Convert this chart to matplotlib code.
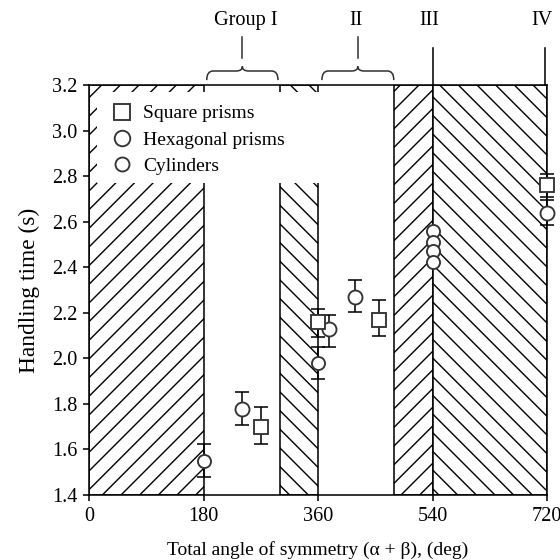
import numpy as np
import matplotlib
matplotlib.use("Agg")
import matplotlib.pyplot as plt
from matplotlib.lines import Line2D
from matplotlib.patches import Rectangle, PathPatch
from matplotlib.path import Path

plt.rcParams['font.family'] = ['Liberation Serif', 'DejaVu Serif']
plt.rcParams['hatch.linewidth'] = 0.9

# data
sq_x = [270, 360, 455, 720]
sq_y = [1.70, 2.16, 2.17, 2.76]
sq_lo = [1.625, 2.095, 2.10, 2.707]
sq_hi = [1.785, 2.217, 2.256, 2.81]

hex_x = [240, 377, 418, 720]
hex_y = [1.78, 2.13, 2.27, 2.64]
hex_lo = [1.707, 2.052, 2.202, 2.585]
hex_hi = [1.851, 2.19, 2.345, 2.695]

cyl_x = [180, 360]
cyl_y = [1.55, 1.98]
cyl_lo = [1.48, 1.908]
cyl_hi = [1.625, 2.052]

# group III, no error bars drawn
g3_x = [540, 540, 540, 540]
g3_y = [2.558, 2.512, 2.473, 2.423]

# shaded (hatched) bands: start, end, hatch
bands = [(0, 180, '//'), (300, 360, '\\\\'), (480, 540, '//'), (540, 720, '\\\\')]

fig = plt.figure(figsize=(5, 5), dpi=112)
ax = fig.add_axes([0.159, 0.116, 0.818, 0.732])

for a, b, h in bands:
    ax.axvspan(a, b, facecolor='white', edgecolor='black', hatch=h, linewidth=1.0, zorder=0.5)

# white box behind legend
ax.add_patch(Rectangle((12, 2.77), 353, 0.40, facecolor='white', edgecolor='none', zorder=2))

ekw = dict(fmt='none', ecolor='black', elinewidth=1.0, capsize=4.2, capthick=1.0, zorder=4, clip_on=False)
ax.errorbar(sq_x, sq_y, yerr=[np.subtract(sq_y, sq_lo), np.subtract(sq_hi, sq_y)], **ekw)
ax.errorbar(hex_x, hex_y, yerr=[np.subtract(hex_y, hex_lo), np.subtract(hex_hi, hex_y)], **ekw)
ax.errorbar(cyl_x, cyl_y, yerr=[np.subtract(cyl_y, cyl_lo), np.subtract(cyl_hi, cyl_y)], **ekw)

mkw = dict(linestyle='none', markerfacecolor='white', markeredgecolor='#333333', markeredgewidth=1.2)
ax.plot(hex_x, hex_y, marker='o', markersize=9, zorder=5, clip_on=False, **mkw)
ax.plot(cyl_x, cyl_y, marker='o', markersize=8.4, zorder=5, clip_on=False, **mkw)
ax.plot(g3_x, g3_y, marker='o', markersize=8.4, zorder=5, clip_on=False, **mkw)
ax.plot(sq_x, sq_y, marker='s', markersize=9.6, zorder=5, clip_on=False, **mkw)

handles = [
    Line2D([], [], marker='s', markersize=10.5, **mkw),
    Line2D([], [], marker='o', markersize=10, **mkw),
    Line2D([], [], marker='o', markersize=9, **mkw),
]
leg = ax.legend(handles, ['Square prisms', 'Hexagonal prisms', 'Cylinders'], loc='upper left',
                bbox_to_anchor=(0.02, 0.985), frameon=False, fontsize=12.5, handlelength=1.0,
                handletextpad=0.6, labelspacing=0.45, borderaxespad=0.3)
leg.set_zorder(6)

ax.set_xlim(0, 720)
ax.set_ylim(1.4, 3.2)
ax.set_xticks([0, 180, 360, 540, 720])
ax.set_yticks(np.arange(1.4, 3.21, 0.2))
ax.set_yticklabels(['%.1f' % v for v in np.arange(1.4, 3.21, 0.2)])
ax.tick_params(direction='out', length=4, width=1, labelsize=13, colors='black')
for s in ax.spines.values():
    s.set_linewidth(1.0)
    s.set_zorder(3)

ax.set_xlabel('Total angle of symmetry (\u03b1 + \u03b2), (deg)', fontsize=12.5, labelpad=10)
ax.set_ylabel('Handling time (s)', fontsize=15, labelpad=8)

# group annotations above the plot
def brace(x0, x1, y0=3.222, y1=3.262, y2=3.282):
    xc = (x0 + x1) / 2
    r = 10
    verts = [(x0, y0), (x0, y1), (x0 + r, y1),
             (xc - r, y1), (xc, y1), (xc, y2),
             (xc, y1), (xc + r, y1),
             (x1 - r, y1), (x1, y1), (x1, y0)]
    codes = [Path.MOVETO, Path.CURVE3, Path.CURVE3,
             Path.LINETO, Path.CURVE3, Path.CURVE3,
             Path.CURVE3, Path.CURVE3,
             Path.LINETO, Path.CURVE3, Path.CURVE3]
    ax.add_patch(PathPatch(Path(verts, codes), facecolor='none', edgecolor='#333333', lw=1.0, clip_on=False))
    ax.plot([xc, xc], [3.319, 3.41], color='#333333', lw=1.0, clip_on=False)

brace(185, 297)
brace(366, 479)
ax.text(247, 3.485, 'Group I', ha='center', va='center', fontsize=13)
ax.text(420, 3.485, 'II', ha='center', va='center', fontsize=13)
ax.plot([540, 540], [3.2, 3.362], color='black', lw=1.0, clip_on=False)
ax.plot([716, 716], [3.2, 3.362], color='black', lw=1.0, clip_on=False)
ax.text(534, 3.485, 'III', ha='center', va='center', fontsize=13)
ax.text(712, 3.485, 'IV', ha='center', va='center', fontsize=13)

fig.savefig('out.png', dpi=112)
